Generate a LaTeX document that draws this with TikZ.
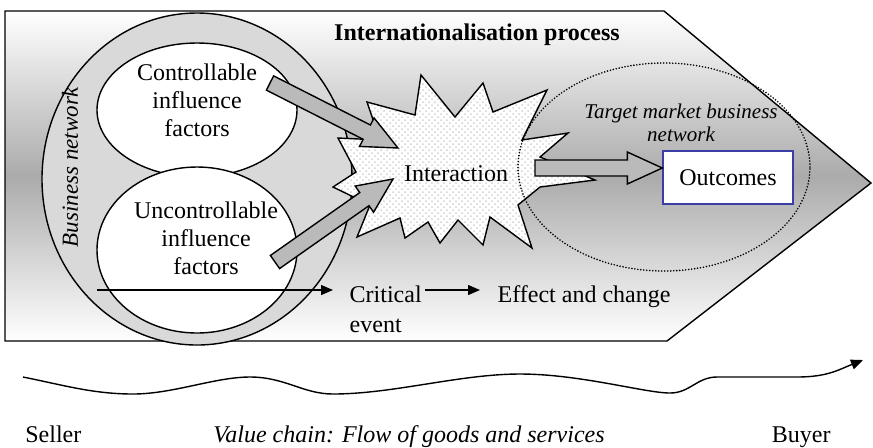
\documentclass[tikz,border=0pt]{standalone}
\usepackage{fontspec}
\setmainfont{Liberation Serif}
\usetikzlibrary{calc,patterns,arrows.meta}
\definecolor{boxblue}{RGB}{60,60,165}
\newcommand{\basefont}{\fontsize{12}{14}\selectfont}
% block arrow between two named points
\newcommand{\fatarrow}[2]{%
  \coordinate (fa) at ($(#2)!17.5pt!(#1)$);
  \draw[fat] ($(#1)!4pt!90:(#2)$) -- ($(fa)!4pt!-90:(#1)$) -- ($(fa)!8pt!-90:(#1)$) -- (#2)
    -- ($(fa)!8pt!90:(#1)$) -- ($(fa)!4pt!90:(#1)$) -- ($(#1)!4pt!-90:(#2)$) -- cycle;}
\begin{document}
\begin{tikzpicture}[x=0.5pt, y=-0.5pt, line width=0.7pt, font=\basefont]
\tikzstyle{fat}=[draw, fill=black!27, line join=miter]
\tikzstyle{burst}=[draw, preaction={fill=white}, pattern=crosshatch dots, pattern color=black!18]
\tikzstyle{outbox}=[draw=boxblue, fill=white, minimum width=65pt, minimum height=26.5pt]
\tikzstyle{evarrow}=[-{Triangle[length=6pt,width=5pt]}]
\useasboundingbox (0,0) rectangle (873,447);
  % process chevron
  \draw[top color=white, bottom color=white, middle color=black!33]
    (5,11) -- (664,11) -- (871,183) -- (667,341) -- (5,341) -- cycle;
  % business network
  \draw[fill=black!15] (197,179) ellipse [x radius=77.5pt, y radius=83pt];
  \draw[fill=white] (197,110) ellipse [x radius=50pt, y radius=33.5pt];
  \draw[fill=white] (197,250) ellipse [x radius=50pt, y radius=41.5pt];
  % interaction
  \draw[burst] (421,75) -- (455,117) -- (483,83) -- (493,112) -- (547,90) -- (522,140)
    -- (568,133) -- (540,157) -- (595,180) -- (540,187) -- (518,205) -- (532,248)
    -- (490,217) -- (483,245) -- (458,220) -- (440,243) -- (428,222) -- (405,238)
    -- (400,218) -- (357,237) -- (370,205) -- (333,187) -- (356,172) -- (338,138)
    -- (380,140) -- (367,102) -- (415,115) -- cycle;
  % target market
  \draw[line cap=round, dash pattern=on 0pt off 1.5pt, line width=0.9pt]
    (664,167) ellipse [x radius=73pt, y radius=52pt];

  \node (title) [font=\basefont\bfseries] at (477,35) {Internationalisation process};
  \node (ctrl) [align=center] at (197,100) {Controllable\\influence\\factors};
  \node (unctrl) [align=center] at (206,238) {Uncontrollable\\influence\\factors};
  \node (busnet) [rotate=90, font=\fontsize{11.5}{13}\selectfont\itshape] at (70,167) {Business network};
  \node (interact) at (456,174) {Interaction};
  \node (tmarket) [align=center, font=\fontsize{10.5}{11.5}\selectfont\itshape] at (681,123)
    {Target market business\\network};
  \node (outcomes) [outbox] at (728,177.5) {Outcomes};

  \coordinate (c1) at (270,83);
  \coordinate (c2) at (398,148);
  \coordinate (u1) at (275,262);
  \coordinate (u2) at (393,179);
  \coordinate (r1) at (535,168);
  \coordinate (r2) at (outcomes.west |- r1);
  \fatarrow{c1}{c2}
  \fatarrow{u1}{u2}
  \fatarrow{r1}{r2}

  % critical event
  \coordinate (evstart) at (97,290);
  \node (crit) [anchor=north west, align=left, inner sep=1.5pt, font=\fontsize{12}{15}\selectfont]
    at (346,282) {Critical\\event};
  \node (effect) [anchor=base west, inner sep=1.5pt] at (494,302) {Effect and change};
  \draw[evarrow, shorten >=6.5pt] (evstart) -- (crit.west |- evstart);
  \draw[evarrow, shorten >=7pt] (crit.east |- evstart) -- (effect.west |- evstart);

  % value chain
  \node (seller) [anchor=base west] at (18,442) {Seller};
  \node (chain) [anchor=base west, font=\basefont\itshape] at (206,442) {Value chain: Flow of goods and services};
  \node (buyer) [anchor=base east] at (838,442) {Buyer};
  \foreach \wname/\wx/\wy in {w0/23/377, w1/133/394, w2/250/377,
                              w3/333/394, w4/520/374, w5/670/393,
                              w6/717/377, w7/797/377, w8/863/360}
    \coordinate (\wname) at (\wx,\wy);
  \draw[evarrow] (w0) .. controls +(40,8) and +(-40,0) .. (w1)
    .. controls +(40,0) and +(-35,0) .. (w2)
    .. controls +(35,0) and +(-30,0) .. (w3)
    .. controls +(60,0) and +(-60,0) .. (w4)
    .. controls +(60,0) and +(-25,0) .. (w5)
    .. controls +(20,0) and +(-20,0) .. (w6)
    .. controls +(30,0) and +(-30,0) .. (w7)
    .. controls +(30,0) and +(-25,10) .. (w8);
\end{tikzpicture}
\end{document}
